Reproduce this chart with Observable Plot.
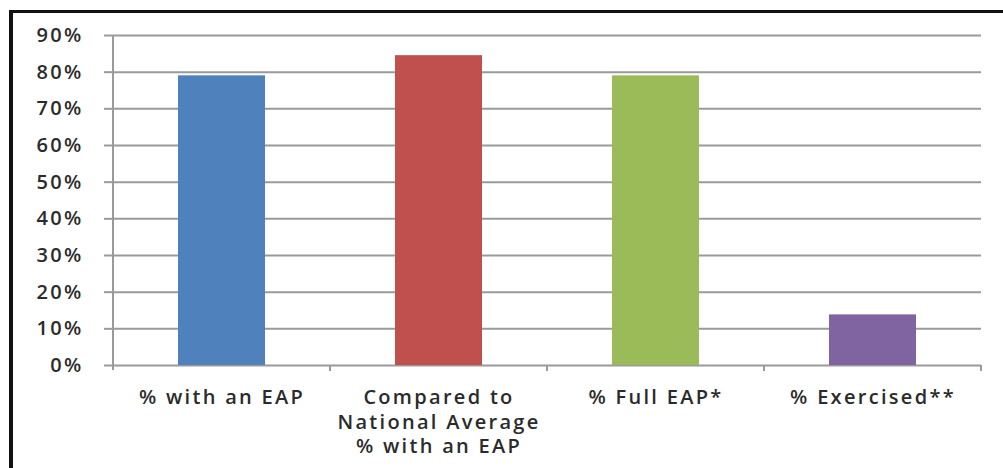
<!DOCTYPE html>
<html>
<head>
<meta charset="utf-8">
<script src="https://cdn.jsdelivr.net/npm/d3@7"></script>
<script src="https://cdn.jsdelivr.net/npm/@observablehq/plot@0.6"></script>
<style>
  html, body { margin: 0; padding: 0; background: #fff; }
  #wrap { position: relative; width: 1003px; height: 468px; overflow: hidden; }
  #border { position: absolute; left: 9px; top: 10px; right: -10px; bottom: -10px;
            border-left: 4px solid #111; border-top: 3px solid #111; pointer-events: none; }
</style>
</head>
<body>
<div id="wrap"><div id="border"></div></div>
<script>
const categories = ["with", "national", "full", "exercised"];
const labels = ["% with an EAP", "Compared to\nNational Average\n% with an EAP", "% Full EAP*", "% Exercised**"];
const values = [0.79, 0.845, 0.79, 0.138];
const colors = ["#4F81BD", "#C0504D", "#9BBB59", "#8064A2"];
const yTicks = [0, 0.1, 0.2, 0.3, 0.4, 0.5, 0.6, 0.7, 0.8, 0.9];

const GRID = "#9a9a9a";
const TEXT = "#2b2b2b";
const data = categories.map((c, i) => ({cat: c, value: values[i]}));
const labelOf = new Map(categories.map((c, i) => [c, labels[i]]));

function axisDecor(index, scales) {
  const x = scales.x, y = scales.y;
  const g = d3.create("svg:g").attr("stroke", GRID).attr("stroke-width", 2);
  const bw = x.bandwidth(), step = x.step();
  const y0 = y(0), yTop = y(yTicks[yTicks.length - 1]);
  const left = x(categories[0]) - (step - bw) / 2;
  g.append("line").attr("x1", left).attr("x2", left).attr("y1", yTop).attr("y2", y0 + 5);
  for (const c of categories) {
    const xr = x(c) + bw + (step - bw) / 2;
    g.append("line").attr("x1", xr).attr("x2", xr).attr("y1", y0).attr("y2", y0 + 6);
  }
  return g.node();
}

const chart = Plot.plot({
  width: 1003,
  height: 468,
  marginLeft: 113,
  marginRight: 22,
  marginTop: 35,
  marginBottom: 103,
  style: {fontFamily: "'Open Sans', sans-serif", fontSize: "20px", fontWeight: 600, color: TEXT, background: "transparent", letterSpacing: "2.3px"},
  x: {domain: categories, paddingInner: 0.6, paddingOuter: 0.3},
  y: {domain: [0, 0.9]},
  color: {domain: categories, range: colors},
  marks: [
    Plot.gridY(yTicks, {stroke: GRID, strokeOpacity: 1, strokeWidth: 2}),
    Plot.barY(data, {x: "cat", y: "value", fill: "cat"}),
    Plot.axisY({ticks: yTicks, tickFormat: d3.format(".0%"), tickSize: 9, tickPadding: 21,
                stroke: GRID, strokeWidth: 2, strokeOpacity: 1, fill: TEXT, label: null, fontSize: 20}),
    Plot.axisX({tickFormat: d => labelOf.get(d), tickSize: 0, tickPadding: 21, lineHeight: 1.23,
                fill: TEXT, label: null, fontSize: 20}),
    axisDecor
  ]
});
document.getElementById("wrap").prepend(chart);
</script>
</body>
</html>
